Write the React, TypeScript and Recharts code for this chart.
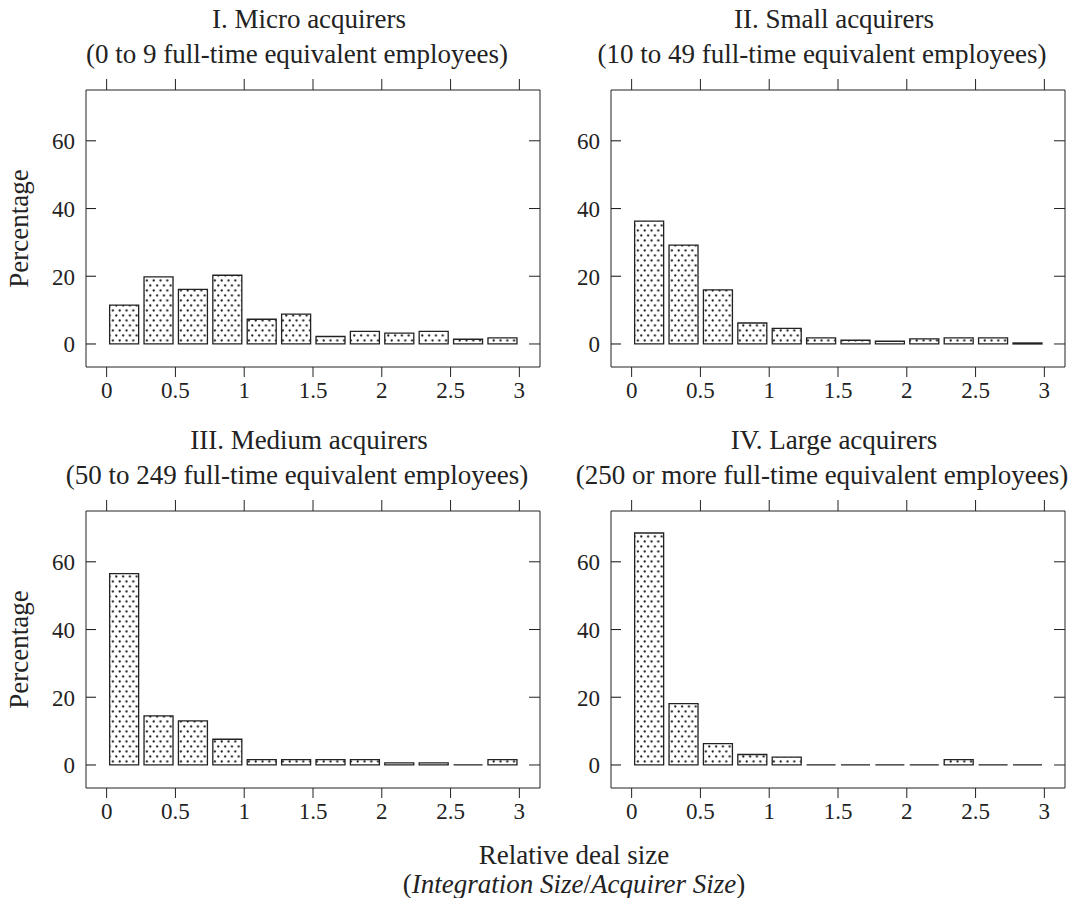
import React from 'react'
import { BarChart, Bar, XAxis, YAxis } from 'recharts'

// Histogram bins of relative deal size (width 0.25), mid points
const binMids = [0.125, 0.375, 0.625, 0.875, 1.125, 1.375, 1.625, 1.875, 2.125, 2.375, 2.625, 2.875]

// Percentage of deals per bin
const microPct = [11.5, 19.8, 16.1, 20.3, 7.3, 8.8, 2.2, 3.7, 3.2, 3.7, 1.4, 1.8]
const smallPct = [36.3, 29.2, 16.0, 6.2, 4.6, 1.8, 1.1, 0.8, 1.5, 1.8, 1.8, 0.3]
const mediumPct = [56.5, 14.5, 13.0, 7.6, 1.6, 1.6, 1.6, 1.6, 0.6, 0.6, 0, 1.6]
const largePct = [68.5, 18.1, 6.3, 3.1, 2.3, 0, 0, 0, 0, 1.6, 0, 0]

const xTicks = [0, 0.5, 1, 1.5, 2, 2.5, 3]
const yTicks = [0, 20, 40, 60]

const panelTitles = ['I. Micro acquirers', 'II. Small acquirers', 'III. Medium acquirers', 'IV. Large acquirers']
const panelSubtitles = [
  '(0 to 9 full-time equivalent employees)',
  '(10 to 49 full-time equivalent employees)',
  '(50 to 249 full-time equivalent employees)',
  '(250 or more full-time equivalent employees)',
]

const FONT = '"Liberation Serif", "Times New Roman", serif'
const INK = '#222'
const X_DOMAIN: [number, number] = [-0.15, 3.15]
const Y_DOMAIN: [number, number] = [-6.8, 75]

// frame of each panel (plot area), in page pixels
const FW = 454
const FH = 277
const frames = [
  { l: 86, t: 90 },
  { l: 611, t: 90 },
  { l: 86, t: 511 },
  { l: 611, t: 511 },
]

const ML = 70 // room for y tick labels
const MT = 12 // room for top ticks
const MB = 45 // room for x tick labels
const MR = 6
const Y_GAP = 11 // gap between frame and y labels
const TICK_IN = 10

const noLabel = () => ''

// bar drawn as a path so empty bins still show as a flat line
function HistBar(props: any) {
  const { x, y, width, height } = props
  if (x == null || y == null) return null
  return (
    <path
      d={`M${x},${y}h${width}v${height}h${-width}Z`}
      fill="url(#dotFill)"
      stroke={INK}
      strokeWidth={1.3}
    />
  )
}

// left tick: label outside, tick mark pointing into the panel
function LeftTick(props: any) {
  const { x, y, payload } = props
  const axisX = x + Y_GAP
  return (
    <g>
      <line x1={axisX} x2={axisX + TICK_IN} y1={y} y2={y} stroke={INK} strokeWidth={1.1} />
      <text x={x} y={y} dy="0.36em" textAnchor="end" fontSize={23} fontFamily={FONT} fill={INK}>
        {payload.value}
      </text>
    </g>
  )
}

function Panel({ idx, values }: { idx: number; values: number[] }) {
  const f = frames[idx]
  const data = binMids.map((x, i) => ({ x, pct: values[i] }))
  const tickStyle = { fontSize: 23, fill: INK, fontFamily: FONT }
  return (
    <div style={{ position: 'absolute', left: f.l - ML, top: f.t - MT }}>
      <BarChart
        width={FW + ML + MR}
        height={FH + MT + MB}
        data={data}
        margin={{ top: MT - 1, right: MR - 1, left: 0, bottom: 0 }}
      >
        <XAxis
          dataKey="x"
          type="number"
          domain={X_DOMAIN}
          ticks={xTicks}
          interval={0}
          allowDataOverflow
          height={MB}
          tickSize={10}
          tickMargin={5}
          tick={tickStyle}
          stroke={INK}
        />
        <XAxis
          xAxisId="top"
          dataKey="x"
          orientation="top"
          type="number"
          domain={X_DOMAIN}
          ticks={xTicks}
          interval={0}
          allowDataOverflow
          height={1}
          tickSize={11}
          tickFormatter={noLabel}
          stroke={INK}
        />
        <YAxis
          type="number"
          domain={Y_DOMAIN}
          ticks={yTicks}
          interval={0}
          allowDataOverflow
          width={ML}
          tickSize={0}
          tickMargin={Y_GAP}
          tickLine={false}
          tick={<LeftTick />}
          stroke={INK}
        />
        <YAxis
          yAxisId="right"
          dataKey="pct"
          orientation="right"
          type="number"
          domain={Y_DOMAIN}
          ticks={yTicks}
          interval={0}
          allowDataOverflow
          width={1}
          tickSize={-11}
          tickFormatter={noLabel}
          stroke={INK}
        />
        <Bar dataKey="pct" barSize={29} shape={HistBar} isAnimationActive={false} />
      </BarChart>
    </div>
  )
}

export default function App() {
  const allValues = [microPct, smallPct, mediumPct, largePct]
  return (
    <div
      style={{
        position: 'absolute',
        left: 0,
        top: 0,
        width: 1076,
        height: 898,
        background: '#fff',
        fontFamily: FONT,
      }}
    >
      <svg width={0} height={0} style={{ position: 'absolute' }}>
        <defs>
          <pattern id="dotFill" width={6.8} height={10} patternUnits="userSpaceOnUse">
            <rect width={6.8} height={10} fill="#fff" />
            <circle cx={1.7} cy={2.5} r={1.15} fill={INK} />
            <circle cx={5.1} cy={7.5} r={1.15} fill={INK} />
          </pattern>
        </defs>
      </svg>

      {allValues.map((v, i) => (
        <Panel key={i} idx={i} values={v} />
      ))}

      <svg
        width={1076}
        height={898}
        style={{ position: 'absolute', left: 0, top: 0, pointerEvents: 'none' }}
        fontFamily={FONT}
        fill={INK}
      >
        {frames.map((f, i) => (
          <g key={i} textAnchor="middle" fontSize={27}>
            <text x={f.l + FW / 2 - 4} y={f.t - 62}>
              {panelTitles[i]}
            </text>
            <text x={f.l + FW / 2 - 16} y={f.t - 27}>
              {panelSubtitles[i]}
            </text>
          </g>
        ))}
        {[frames[0], frames[2]].map((f, i) => (
          <text
            key={i}
            x={0}
            y={0}
            fontSize={27}
            textAnchor="middle"
            transform={`translate(28, ${f.t + FH / 2}) rotate(-90)`}
          >
            Percentage
          </text>
        ))}
        <text x={574} y={864} fontSize={27} textAnchor="middle">
          Relative deal size
        </text>
        <text x={574} y={893} fontSize={27} textAnchor="middle">
          (<tspan fontStyle="italic">Integration Size</tspan>/<tspan fontStyle="italic">Acquirer Size</tspan>)
        </text>
      </svg>
    </div>
  )
}
